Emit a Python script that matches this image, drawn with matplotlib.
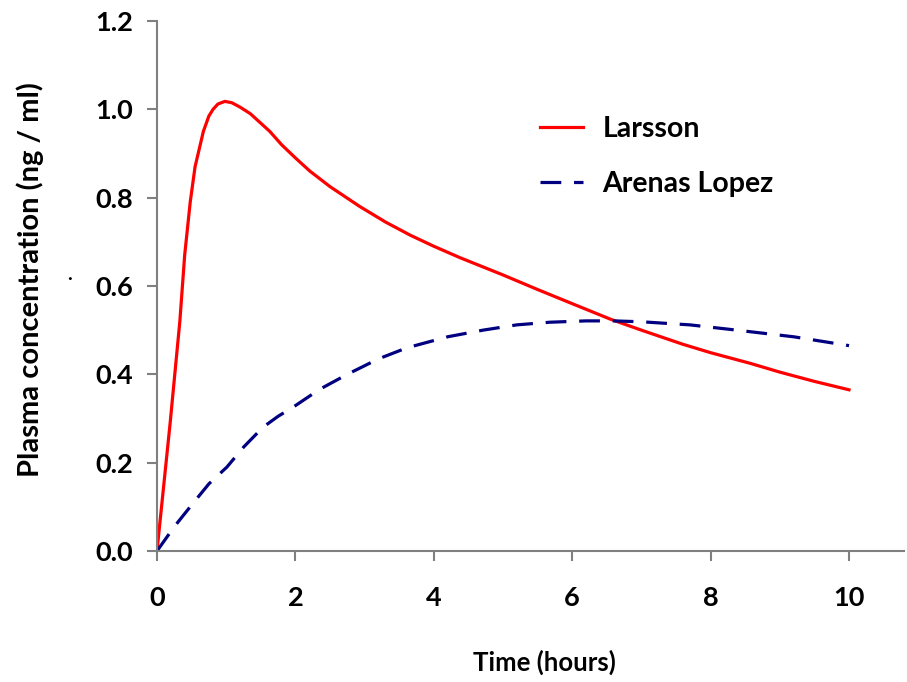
import matplotlib
matplotlib.use("Agg")
import matplotlib.pyplot as plt

plt.rcParams['font.family'] = ['Lato', 'DejaVu Sans']
plt.rcParams['font.weight'] = 'bold'

# Larsson model
t_larsson = [0, 0.19, 0.33, 0.40, 0.48, 0.55, 0.67, 0.75, 0.81, 0.88, 0.98, 1.08,
             1.2, 1.35, 1.49, 1.63, 1.8, 2.0, 2.21, 2.5, 2.93, 3.3, 3.66, 4.0, 4.38,
             5.0, 5.5, 6.0, 6.55, 7.0, 7.6, 8.0, 8.57, 9.0, 9.5, 10.0]
c_larsson = [0, 0.29, 0.52, 0.67, 0.79, 0.87, 0.95, 0.985, 1.0, 1.012, 1.018, 1.015,
             1.005, 0.99, 0.97, 0.95, 0.92, 0.89, 0.86, 0.825, 0.78, 0.745, 0.715,
             0.69, 0.664, 0.625, 0.592, 0.56, 0.525, 0.50, 0.468, 0.449, 0.425,
             0.405, 0.384, 0.365]

# Arenas Lopez model
t_arenas = [0, 0.25, 0.52, 0.75, 1.01, 1.25, 1.53, 1.75, 1.97, 2.35, 2.75, 3.2,
            3.61, 4.2, 4.71, 5.2, 5.68, 6.2, 6.6, 7.0, 7.7, 8.38, 9.2, 10.0]
c_arenas = [0, 0.055, 0.108, 0.152, 0.19, 0.235, 0.28, 0.305, 0.326, 0.366, 0.40,
            0.435, 0.46, 0.485, 0.50, 0.512, 0.518, 0.521, 0.521, 0.519, 0.512,
            0.50, 0.485, 0.465]

xticks = [0, 2, 4, 6, 8, 10]
yticks = [0.0, 0.2, 0.4, 0.6, 0.8, 1.0, 1.2]

fig = plt.figure(figsize=(9.07, 6.82), dpi=100)
ax = fig.add_axes([0.1731, 0.1921, 0.824, 0.7771])

ax.plot(t_larsson, c_larsson, color='#ff0000', lw=2.3, label='Larsson')
ax.plot(t_arenas, c_arenas, color='#000080', lw=2.3, dashes=(6.5, 4),
        label='Arenas Lopez')

ax.set_xlim(0, 10.8)
ax.set_ylim(0, 1.2)
ax.set_xticks(xticks)
ax.set_yticks(yticks)
ax.set_yticklabels([f"{v:.1f}" for v in yticks])

for s in ['top', 'right']:
    ax.spines[s].set_visible(False)
for s in ['left', 'bottom']:
    ax.spines[s].set_color('#808080')
    ax.spines[s].set_linewidth(1.5)

ax.tick_params(axis='both', colors='#808080', length=7.2, width=1.5,
               labelcolor='black', labelsize=19.5)
ax.tick_params(axis='y', pad=10)
ax.tick_params(axis='x', pad=18)

ax.text(0.519, -0.21, 'Time (hours)', transform=ax.transAxes, ha='center',
        va='center', fontsize=18.5, fontweight='bold')
fig.text(30 / 907, 1 - 280 / 682, 'Plasma concentration (ng / ml)', rotation=90,
         ha='center', va='center', fontsize=21, fontweight='bold')
fig.text(70 / 907, 1 - 283 / 682, '.', ha='center', va='bottom', fontsize=14)

ax.legend(loc='upper left', bbox_to_anchor=(0.478, 0.87), frameon=False,
          fontsize=20.5, handlelength=1.5, handletextpad=0.7, labelspacing=1.05)

fig.savefig('out.png', dpi=100)
